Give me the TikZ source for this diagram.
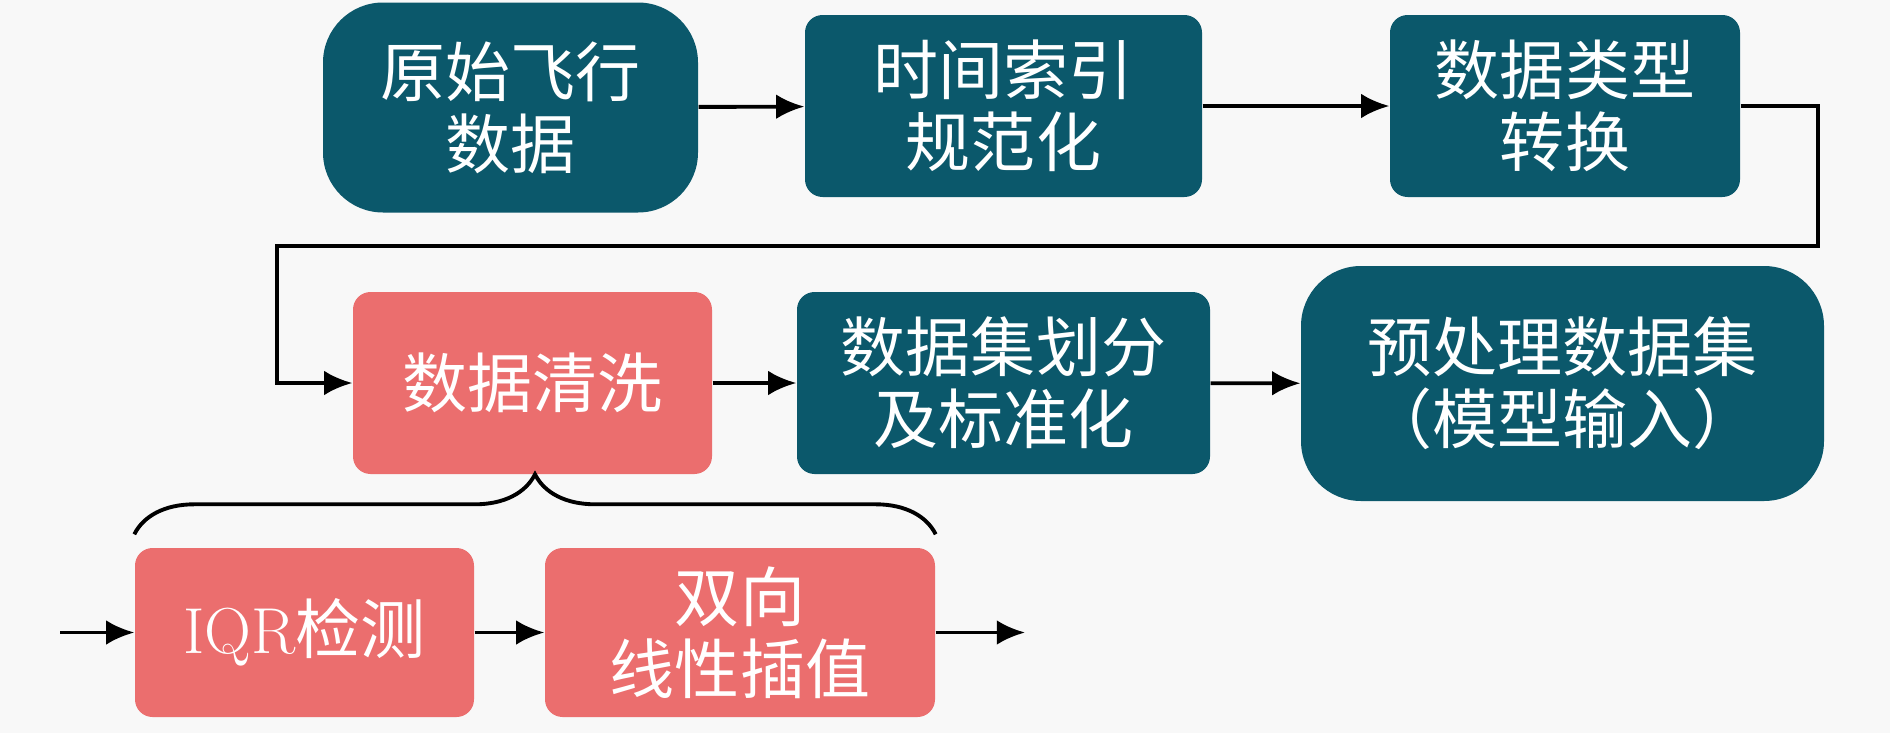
\documentclass[tikz,border=0pt]{standalone}
\usepackage{fontspec}
\newfontfamily\cjk{Noto Sans CJK SC}
\usetikzlibrary{arrows.meta,decorations.pathreplacing}

\definecolor{tealbox}{RGB}{11,88,107}
\definecolor{redbox}{RGB}{235,110,110}
\definecolor{pagebg}{RGB}{248,248,248}

\begin{document}
\begin{tikzpicture}[
        stepbox/.style={rectangle,rounded corners=5pt,fill=tealbox,text=white,align=center,
            minimum height=1.82cm,inner sep=0pt,font=\cjk\fontsize{18.5}{20.5}\selectfont},
        endbox/.style={stepbox,rounded corners=0.6cm},
        cleanbox/.style={stepbox,fill=redbox},
        flow/.style={line width=1.1pt,-{Latex[length=8pt,width=7pt]}},
        brace/.style={line width=1.1pt,decorate,decoration={brace,amplitude=0.6cm}}
    ]
        % Background and page size
        \fill[pagebg] (0,0) rectangle (18.9,-7.33);

        % Define the nodes
        \node[endbox,minimum width=3.75cm,minimum height=2.1cm] (raw) at (5.105,-1.075) {原始飞行\\数据};
        \node[stepbox,minimum width=3.97cm] (index) at (10.035,-1.06) {时间索引\\规范化};
        \node[stepbox,minimum width=3.5cm] (dtype) at (15.65,-1.06) {数据类型\\转换};
        \node[cleanbox,minimum width=3.59cm] (clean) at (5.325,-3.83) {数据清洗};
        \node[stepbox,minimum width=4.13cm] (split) at (10.035,-3.83) {数据集划分\\及标准化};
        \node[endbox,minimum width=5.23cm,minimum height=2.35cm] (prep) at (15.625,-3.835) {预处理数据集\\（模型输入）};
        \node[cleanbox,minimum width=3.39cm,minimum height=1.69cm] (iqr) at (3.045,-6.325) {{\rmfamily IQR}检测};
        \node[cleanbox,minimum width=3.9cm,minimum height=1.69cm] (interp) at (7.40,-6.325) {双向\\线性插值};

        % Turning points and free ends
        \coordinate (turnR) at (18.18,-2.46);
        \coordinate (turnL) at (2.77,-2.46);
        \coordinate (in) at (0.6,-6.325);
        \coordinate (out) at (10.25,-6.325);

        % Main flow
        \draw[flow] (raw) -- (index);
        \draw[flow] (index) -- (dtype);
        \draw[flow] (dtype.east) -| (turnR) -- (turnL) |- (clean.west);
        \draw[flow] (clean) -- (split);
        \draw[flow] (split) -- (prep);

        % Cleaning steps
        \draw[brace] ([yshift=0.13cm]iqr.north west) -- ([yshift=0.13cm]interp.north east);
        \draw[flow] (in) -- (iqr);
        \draw[flow] (iqr) -- (interp);
        \draw[flow] (interp) -- (out);
    \end{tikzpicture}
\end{document}
